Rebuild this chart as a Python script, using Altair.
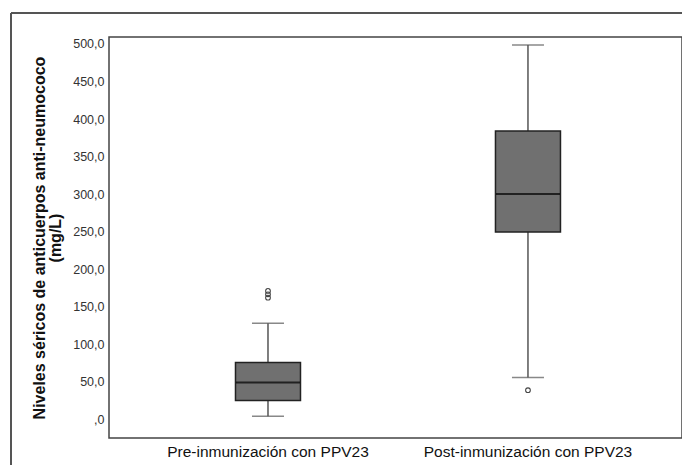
import altair as alt
import pandas as pd

categories = ["Pre-inmunización con PPV23", "Post-inmunización con PPV23"]
whisker_low = [4.0, 55.5]
q1 = [25.0, 249.5]
median = [49.0, 300.0]
q3 = [75.5, 384.0]
whisker_high = [128.0, 498.5]
outlier_group = ["Pre-inmunización con PPV23", "Pre-inmunización con PPV23",
                 "Pre-inmunización con PPV23", "Post-inmunización con PPV23"]
outlier_value = [171.0, 166.5, 162.0, 38.7]
y_ticks = [0, 50, 100, 150, 200, 250, 300, 350, 400, 450, 500]

boxes = pd.DataFrame({"grupo": categories, "lo": whisker_low, "q1": q1,
                      "med": median, "q3": q3, "hi": whisker_high})
outs = pd.DataFrame({"grupo": outlier_group, "valor": outlier_value})

W, H = 573, 401

xenc = alt.X("grupo:N", sort=categories, title=None,
             scale=alt.Scale(paddingInner=0.75, paddingOuter=0.477, align=0.51),
             axis=alt.Axis(labelAngle=0, domain=False, ticks=False, labelPadding=6,
                           labelFont="Liberation Sans", labelFontSize=15.5,
                           labelColor="#111", labelLimit=400))
yscale = alt.Scale(domain=[-25, 509.3], nice=False, zero=False)
yaxis = alt.Axis(values=y_ticks, domain=False, ticks=False, grid=False, labelPadding=5,
                 labelFont="Liberation Sans", labelFontSize=12.5, labelColor="#333",
                 labelExpr="datum.value == 0 ? ',0' : replace(format(datum.value, '.1f'), '.', ',')",
                 title=["Niveles séricos de anticuerpos anti-neumococo", "(mg/L)"],
                 titleFont="Liberation Sans", titleFontSize=16, titleFontWeight="bold",
                 titleColor="#111", titleLineHeight=16, titlePadding=9)

base = alt.Chart(boxes)

whisk = base.mark_rule(color="#555", strokeWidth=1.5).encode(
    x=xenc, y=alt.Y("lo:Q", scale=yscale, axis=yaxis), y2="hi:Q")
cap_lo = base.mark_tick(color="#555", size=32, thickness=1.5).encode(x=xenc, y="lo:Q")
cap_hi = base.mark_tick(color="#555", size=32, thickness=1.5).encode(x=xenc, y="hi:Q")
box = base.mark_bar(size=65, fill="#707070", stroke="#222", strokeWidth=1.5).encode(
    x=xenc, y="q1:Q", y2="q3:Q")
med = base.mark_tick(color="#000", size=64, thickness=2).encode(x=xenc, y="med:Q")
pts = alt.Chart(outs).mark_point(shape="circle", filled=False, size=22,
                                 color="#444", strokeWidth=1.1, opacity=1).encode(
    x=xenc, y="valor:Q")

frame_v = alt.Chart(boxes).mark_rule(color="#555", strokeWidth=2).encode(
    x=alt.value(-98), y=alt.value(-24), y2=alt.value(H + 60))
frame_h = alt.Chart(boxes).mark_rule(color="#555", strokeWidth=2).encode(
    y=alt.value(-24), x=alt.value(-98), x2=alt.value(W + 40))

chart = alt.layer(frame_v, frame_h, whisk, cap_lo, cap_hi, box, med, pts).properties(
    width=W, height=H,
    autosize=alt.AutoSizeParams(type="none"),
    padding={"left": 101, "top": 29, "right": 0, "bottom": 27},
).configure(background="white").configure_view(stroke="#444", strokeWidth=1.5)

chart.save("out.html", embed_options={"renderer": "svg", "actions": False})
